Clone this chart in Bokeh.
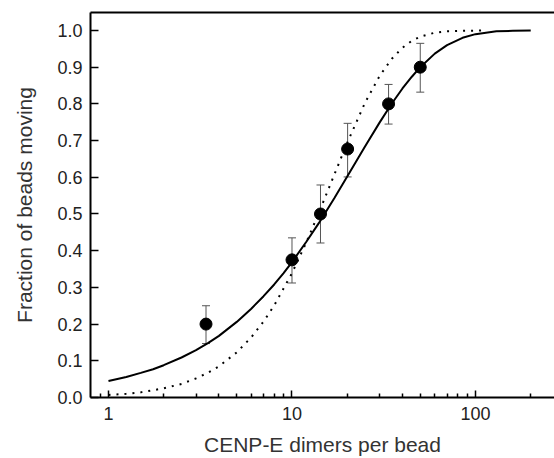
from bokeh.plotting import figure
from bokeh.models import (ColumnDataSource, Whisker, TeeHead, FixedTicker,
                          PrintfTickFormatter, LogAxis, Range1d)
from bokeh.embed import file_html
from bokeh.resources import INLINE

# measured points
dimers = [3.4, 10.0, 14.3, 20.1, 33.6, 50.0]
fraction = [0.200, 0.375, 0.500, 0.677, 0.800, 0.900]
err_low = [0.147, 0.312, 0.421, 0.601, 0.745, 0.832]
err_high = [0.250, 0.435, 0.579, 0.747, 0.853, 0.965]

# solid fit curve
fit1_x = [1, 1.25, 1.5, 1.75, 2, 2.5, 3, 3.5, 4, 5, 6, 7, 8, 9, 10, 12, 14,
          17, 20, 25, 30, 35, 40, 45, 50, 60, 70, 85, 100, 130, 160, 200]
fit1_y = [0.045, 0.056, 0.067, 0.077, 0.088, 0.109, 0.129, 0.149, 0.168,
          0.206, 0.242, 0.276, 0.308, 0.339, 0.369, 0.425, 0.475, 0.543,
          0.602, 0.684, 0.749, 0.801, 0.842, 0.874, 0.900, 0.937, 0.960,
          0.980, 0.990, 0.998, 0.999, 1.000]

# dotted fit curve
fit2_x = [1, 1.25, 1.5, 2, 2.5, 3, 3.5, 4, 5, 6, 7, 8, 10, 12, 14, 17, 20,
          25, 30, 35, 40, 45, 50, 60, 70, 85, 110]
fit2_y = [0.007, 0.010, 0.014, 0.025, 0.037, 0.052, 0.068, 0.085, 0.123,
          0.164, 0.207, 0.251, 0.339, 0.424, 0.503, 0.607, 0.694, 0.803,
          0.876, 0.923, 0.953, 0.972, 0.983, 0.994, 0.998, 0.999, 1.000]

y_ticks = [0.0, 0.1, 0.2, 0.3, 0.4, 0.5, 0.6, 0.7, 0.8, 0.9, 1.0]
x_major = [1, 10, 100]
x_minor = [0.9, 2, 3, 4, 5, 6, 7, 8, 9, 20, 30, 40, 50, 60, 70, 80, 90, 200]

FONT = "Liberation Sans"

p = figure(width=554, height=458, x_axis_type="log",
           x_range=Range1d(0.798, 269.5), y_range=Range1d(0, 1.049),
           output_backend="svg", toolbar_location=None,
           min_border_left=90, min_border_right=0, min_border_top=12,
           min_border_bottom=60)
p.grid.visible = False
p.outline_line_color = None
p.background_fill_color = "white"
p.border_fill_color = "white"

p.line(fit1_x, fit1_y, line_color="black", line_width=2)
p.line(fit2_x, fit2_y, line_color="black", line_width=2, line_dash="2 6")

src = ColumnDataSource(dict(x=dimers, y=fraction, lo=err_low, hi=err_high))
w = Whisker(base="x", lower="lo", upper="hi", source=src,
            line_color="#555555", line_width=1,
            upper_head=TeeHead(size=8, line_color="#555555", line_width=1),
            lower_head=TeeHead(size=8, line_color="#555555", line_width=1))
p.add_layout(w)
p.scatter("x", "y", source=src, size=12, color="black")

# bottom axis
xa = p.xaxis[0]
xa.ticker = FixedTicker(ticks=x_major, minor_ticks=x_minor)
xa.formatter = PrintfTickFormatter(format="%d")
xa.axis_line_width = 2
xa.axis_line_color = "black"
xa.major_tick_in = 7
xa.major_tick_out = 0
xa.minor_tick_in = 4
xa.minor_tick_out = 0
xa.major_tick_line_width = 1.5
xa.minor_tick_line_width = 1.5
xa.major_label_text_font = FONT
xa.major_label_text_font_size = "18px"
xa.major_label_text_color = "#222222"
xa.major_label_standoff = 9
xa.axis_label = "CENP-E dimers per bead"
xa.axis_label_text_font = FONT
xa.axis_label_text_font_size = "21px"
xa.axis_label_text_font_style = "normal"
xa.axis_label_text_color = "#333333"
xa.axis_label_standoff = 10

# left axis
ya = p.yaxis[0]
ya.ticker = FixedTicker(ticks=y_ticks)
ya.formatter = PrintfTickFormatter(format="%.1f")
ya.axis_line_width = 2
ya.axis_line_color = "black"
ya.major_tick_in = 8
ya.major_tick_out = 0
ya.minor_tick_line_color = None
ya.major_tick_line_width = 1.5
ya.major_label_text_font = FONT
ya.major_label_text_font_size = "18px"
ya.major_label_text_color = "#222222"
ya.major_label_standoff = 8
ya.axis_label = "Fraction of beads moving"
ya.axis_label_text_font = FONT
ya.axis_label_text_font_size = "21px"
ya.axis_label_text_font_style = "normal"
ya.axis_label_text_color = "#333333"
ya.axis_label_standoff = 18

# top frame line
top = LogAxis(ticker=FixedTicker(ticks=[]), axis_line_width=2,
              axis_line_color="black", major_tick_line_color=None,
              minor_tick_line_color=None, major_label_text_font_size="0px",
              major_label_standoff=0, major_tick_in=0, major_tick_out=0)
p.add_layout(top, "above")

open("out.html", "w").write(file_html(p, INLINE))
